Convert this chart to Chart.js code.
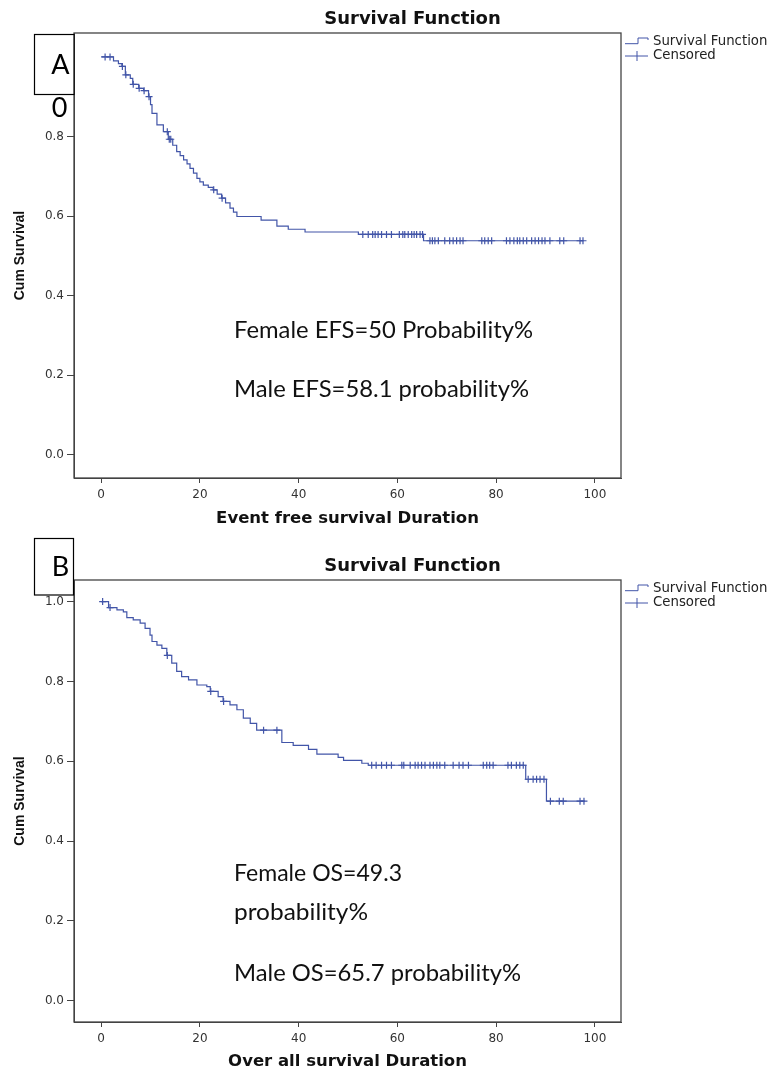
<!DOCTYPE html>
<html>
<head>
<meta charset="utf-8">
<script src="https://cdn.jsdelivr.net/npm/chart.js@4.4.0/dist/chart.umd.min.js"></script>
<style>
  body { margin: 0; background: #fff; }
  .panel { position: absolute; left: 0; }
</style>
</head>
<body>
<div class="panel" style="top:0"><canvas id="chartA" width="769" height="530"></canvas></div>
<div class="panel" style="top:530px"><canvas id="chartB" width="769" height="543"></canvas></div>
<script>
// Panel A: event free survival (step times and survival after each step)
var efsTimes = [0, 2.5, 3.5, 4.2, 4.9, 5.9, 6.4, 7.6, 8.6, 9.6, 10.0, 10.3, 11.3, 12.6, 13.6, 14.5, 15.3, 16.0, 16.7, 17.4, 18.0, 18.7, 19.4, 20.0, 20.7, 21.7, 22.7, 23.5, 24.4, 25.2, 26.1, 26.8, 27.5, 32.4, 35.6, 37.9, 41.3, 52.1, 65.3, 97.6];
var efsSurv = [1.0, 0.99, 0.983, 0.976, 0.955, 0.946, 0.931, 0.921, 0.915, 0.90, 0.88, 0.858, 0.829, 0.812, 0.793, 0.778, 0.762, 0.752, 0.741, 0.731, 0.72, 0.708, 0.695, 0.686, 0.678, 0.672, 0.666, 0.655, 0.645, 0.633, 0.62, 0.61, 0.599, 0.59, 0.575, 0.567, 0.56, 0.554, 0.538, 0.538];
var efsCensored = [0.8, 1.8, 4.3, 5.0, 6.5, 7.7, 8.7, 9.7, 13.4, 13.8, 14.1, 22.8, 24.5, 53.0, 54.1, 55.0, 55.5, 56.1, 56.8, 57.8, 58.8, 60.4, 61.1, 61.5, 62.2, 62.9, 63.4, 63.9, 64.6, 65.1, 66.6, 67.1, 67.6, 68.3, 69.6, 70.6, 71.3, 72.0, 72.7, 73.3, 77.1, 77.7, 78.4, 79.1, 82.1, 82.8, 83.6, 84.3, 84.8, 85.5, 86.2, 87.2, 87.9, 88.6, 89.3, 89.9, 90.9, 92.9, 93.7, 97.0, 97.6];

// Panel B: overall survival
var osTimes = [0, 1.5, 3.2, 4.5, 5.2, 6.5, 7.9, 8.9, 9.9, 10.3, 11.3, 12.3, 13.3, 14.3, 15.3, 16.3, 17.7, 19.4, 21.4, 22.1, 23.7, 24.7, 26.1, 27.5, 28.8, 30.2, 31.5, 36.6, 38.9, 42.0, 43.7, 48.0, 49.1, 52.8, 54.1, 86.0, 90.2, 98.0];
var osSurv = [1.0, 0.985, 0.979, 0.974, 0.96, 0.954, 0.946, 0.933, 0.916, 0.90, 0.891, 0.883, 0.865, 0.846, 0.825, 0.812, 0.804, 0.791, 0.787, 0.775, 0.762, 0.75, 0.741, 0.729, 0.708, 0.695, 0.678, 0.647, 0.64, 0.63, 0.618, 0.61, 0.602, 0.595, 0.59, 0.555, 0.50, 0.50];
var osCensored = [0.3, 1.8, 13.4, 22.2, 24.8, 32.9, 35.6, 54.8, 55.7, 56.8, 57.8, 58.8, 60.9, 61.3, 62.6, 63.6, 64.2, 64.9, 65.6, 66.6, 67.3, 68.0, 68.6, 69.6, 71.3, 72.5, 73.3, 74.4, 77.4, 78.1, 78.7, 79.4, 82.4, 83.1, 84.1, 84.8, 85.5, 86.5, 87.5, 88.2, 88.9, 89.7, 91.0, 92.8, 93.6, 97.0, 97.8];

var xTicks = [0, 20, 40, 60, 80, 100];
var yTicks = [0, 0.2, 0.4, 0.6, 0.8, 1.0];

var lineColor = "#4255a8";
var sansFont = "'DejaVu Sans', 'Liberation Sans', sans-serif";
var noteFont = "Lato, 'Open Sans', sans-serif";

// value of the step curve at time t
survAt = (times, surv, t) => {
  var v = surv[0];
  for (let i = 0; i < times.length; i++) {
    if (times[i] <= t) v = surv[i];
  }
  return v;
};

fitText = (ctx, text, x, y, w) => {
  var m = ctx.measureText(text).width;
  ctx.save();
  ctx.translate(x, y);
  ctx.scale(w / m, 1);
  ctx.fillText(text, 0, 0);
  ctx.restore();
};

var overlay = {
  id: "overlay",
  afterDraw: function(chart) {
    var o = chart.options.plugins.overlay;
    var ctx = chart.ctx;
    var a = chart.chartArea;
    ctx.save();

    // frame round the plot
    ctx.strokeStyle = "#444";
    ctx.lineWidth = 1.3;
    ctx.strokeRect(a.left, a.top, a.right - a.left, a.bottom - a.top);

    // title
    ctx.fillStyle = "#111";
    ctx.font = "bold 18px " + sansFont;
    ctx.textAlign = "center";
    ctx.textBaseline = "middle";
    ctx.fillText("Survival Function", 412.5, a.top - 13.5);

    // legend
    var ly = a.top + 9;
    ctx.strokeStyle = lineColor;
    ctx.lineWidth = 1;
    ctx.beginPath();
    ctx.moveTo(625, ly + 1.7);
    ctx.lineTo(638, ly + 1.7);
    ctx.lineTo(638, ly - 4);
    ctx.lineTo(648, ly - 4);
    ctx.lineTo(648, ly - 2);
    ctx.stroke();
    ctx.beginPath();
    ctx.moveTo(625, ly + 14);
    ctx.lineTo(648, ly + 14);
    ctx.moveTo(637, ly + 9);
    ctx.lineTo(637, ly + 19);
    ctx.stroke();
    ctx.fillStyle = "#222";
    ctx.font = "13.3px " + sansFont;
    ctx.textAlign = "left";
    ctx.fillText("Survival Function", 653, ly);
    ctx.fillText("Censored", 653, ly + 14);

    // panel letter
    var b = o.box;
    ctx.fillStyle = "#fff";
    ctx.fillRect(b.x, b.y, b.w, b.h);
    ctx.strokeStyle = "#000";
    ctx.lineWidth = 1.2;
    ctx.strokeRect(b.x, b.y, b.w, b.h);
    ctx.fillStyle = "#000";
    ctx.font = "27px " + noteFont;
    ctx.textAlign = "center";
    ctx.fillText(b.label, b.x + 26, b.y + b.h / 2 + 1);
    if (b.extra) ctx.fillText(b.extra, b.x + 25, b.y + b.h + 14);

    // notes written on the plot
    ctx.fillStyle = "#111";
    ctx.font = "24px " + noteFont;
    ctx.textAlign = "left";
    o.notes.forEach(n => fitText(ctx, n.text, n.x, n.y, n.w));

    ctx.restore();
  }
};

makeChart = (id, times, surv, censored, xTitle, yMin, yMax, top, bottomH, box, notes) => {
  var line = times.map((t, i) => ({ x: t, y: surv[i] }));
  var marks = censored.map(t => ({ x: t, y: survAt(times, surv, t) }));
  new Chart(document.getElementById(id), {
    type: "line",
    data: {
      datasets: [
        {
          label: "Survival Function",
          data: line,
          borderColor: lineColor,
          borderWidth: 1.2,
          stepped: true,
          pointRadius: 0,
          fill: false
        },
        {
          label: "Censored",
          data: marks,
          showLine: false,
          pointStyle: "cross",
          pointRadius: 3.5,
          borderColor: lineColor,
          borderWidth: 1.2
        }
      ]
    },
    options: {
      responsive: false,
      animation: false,
      devicePixelRatio: 1,
      layout: { padding: { top: top, right: 148, left: 0, bottom: 0 } },
      plugins: {
        legend: { display: false },
        title: { display: false },
        tooltip: { enabled: false },
        overlay: { box: box, notes: notes }
      },
      scales: {
        x: {
          type: "linear",
          min: -5.5,
          max: 105.3,
          afterBuildTicks: s => { s.ticks = xTicks.map(v => ({ value: v })); },
          afterFit: s => { s.height = bottomH; },
          grid: { drawOnChartArea: false, drawTicks: true, tickLength: 5, tickColor: "#444" },
          border: { color: "#444" },
          ticks: { color: "#333", padding: 5, font: { family: sansFont, size: 12 }, maxRotation: 0 },
          title: {
            display: true,
            text: xTitle,
            color: "#111",
            font: { family: sansFont, size: 16.5, weight: "bold", lineHeight: 1.0 },
            padding: { top: 0, bottom: 3 }
          }
        },
        y: {
          type: "linear",
          min: yMin,
          max: yMax,
          afterBuildTicks: s => { s.ticks = yTicks.map(v => ({ value: v })); },
          afterFit: s => { s.width = 74; },
          grid: { drawOnChartArea: false, drawTicks: true, tickLength: 7, tickColor: "#444" },
          border: { color: "#444" },
          ticks: { color: "#333", padding: 3, font: { family: sansFont, size: 12 }, callback: v => v.toFixed(1) },
          title: {
            display: true,
            text: "Cum Survival",
            color: "#111",
            font: { family: "'Liberation Sans', Arial, sans-serif", size: 14, weight: "bold" },
            padding: { top: 11.6, bottom: 0 }
          }
        }
      }
    },
    plugins: [overlay]
  });
};

makeChart("chartA", efsTimes, efsSurv, efsCensored, "Event free survival Duration", -0.058, 1.06, 33, 52,
  { x: 34.5, y: 34.5, w: 39.5, h: 60, label: "A", extra: "0" },
  [
    { text: "Female EFS=50 Probability%", x: 234, y: 330, w: 299 },
    { text: "Male EFS=58.1 probability%", x: 234, y: 389, w: 295 }
  ]);

makeChart("chartB", osTimes, osSurv, osCensored, "Over all survival Duration", -0.053, 1.054, 50, 51,
  { x: 34.5, y: 8.5, w: 39, h: 56.5, label: "B", extra: "" },
  [
    { text: "Female OS=49.3", x: 234, y: 343, w: 168 },
    { text: "probability%", x: 234, y: 382, w: 134 },
    { text: "Male OS=65.7 probability%", x: 234, y: 443, w: 287 }
  ]);
</script>
</body>
</html>
